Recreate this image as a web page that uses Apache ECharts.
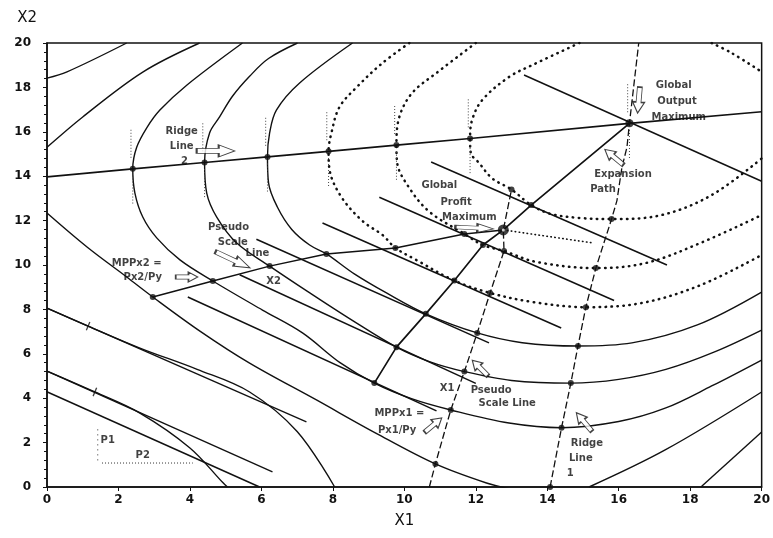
<!DOCTYPE html>
<html>
<head>
<meta charset="utf-8">
<script src="https://cdn.jsdelivr.net/npm/echarts/dist/echarts.min.js"></script>
<style>
html,body{margin:0;padding:0;background:#fff;}
#chart{width:773px;height:538px;}
</style>
</head>
<body>
<div id="chart"></div>
<script>
// ---------- isoquants (solid) ----------
const isoM2 = [[0,5.22],[1.34,4.28],[2.6,3.33],[4.0,1.76],[4.92,0.2],[5.05,0]];
const isoM1Upper = [[0,18.42],[0.56,18.7],[2.23,20]];
const isoM1Lower = [[0,8.06],[1.15,7.25],[2.6,6.26],[4.2,5.3],[5.67,4.28],[7.0,2.5],[8.05,0]];
const isoM1Right = [[18.3,0],[20,2.48]];
const iso0Upper = [[0,15.3],[1.0,16.67],[2.68,18.69],[4.27,20]];
const iso0Lower = [[0,12.34],[1.12,10.81],[2.23,9.46],[2.96,8.56],[4.3,7.0],[5.67,5.58],[7.54,3.92],[9.2,2.43],[10.87,1.04],[12.3,0.18],[13.0,-0.1]];
const iso0Right = [[15.17,0],[17.3,1.67],[20,4.28]];
const iso1 = [[5.47,20],[3.91,18.1],[3.16,16.98],[2.8,16.2],[2.51,15.3],[2.4,14.33],[2.46,13.24],[2.68,12.16],[3.07,11.22],[3.72,10.23],[4.64,9.28],[6.03,7.97],[7.15,6.94],[8.2,5.6],[9.16,4.68],[10.2,3.98],[11.3,3.47],[12.93,2.88],[14.4,2.67],[16.0,2.95],[17.3,3.55],[18.6,4.55],[20,5.72]];
const iso2 = [[7.01,20],[6.2,19.3],[5.67,18.5],[5.19,17.6],[4.83,16.67],[4.55,15.95],[4.41,14.62],[4.47,13.24],[4.75,12.16],[5.31,10.99],[6.23,9.95],[7.3,8.8],[8.5,7.55],[9.78,6.3],[10.7,5.65],[11.68,5.2],[13.0,4.8],[14.66,4.68],[16.0,4.85],[17.32,5.3],[18.7,6.1],[20,7.07]];
const iso3 = [[8.55,20],[7.07,18.2],[6.42,16.98],[6.23,15.95],[6.17,14.87],[6.2,13.7],[6.45,12.6],[6.85,11.6],[7.35,10.9],[7.82,10.5],[8.6,9.6],[9.5,8.74],[10.6,7.8],[12.04,6.94],[13.3,6.5],[14.86,6.35],[16.37,6.49],[18.2,7.3],[20,8.78]];

// ---------- isoquants (dotted) ----------
const iso4 = [[10.14,20],[9.39,19.1],[8.66,18.0],[8.18,17.1],[7.96,15.95],[7.88,15.12],[7.91,14.27],[8.24,13.06],[8.83,11.98],[9.39,11.35],[9.75,10.77],[10.33,10.23],[11.4,9.3],[12.4,8.74],[13.6,8.33],[15.08,8.1],[16.65,8.29],[18.3,9.1],[20,10.45]];
const iso5 = [[12.0,20],[10.9,18.65],[10.22,17.75],[9.86,16.67],[9.78,15.4],[9.8,14.6],[10.14,13.47],[10.7,12.4],[11.68,11.4],[12.2,10.9],[12.79,10.63],[13.69,10.14],[15.36,9.86],[16.76,10.09],[18.3,11.0],[20,12.25]];
const iso6 = [[14.9,20],[13.6,19.02],[12.93,18.47],[12.18,17.43],[11.9,16.55],[11.84,15.7],[11.86,15.05],[12.09,14.6],[12.46,13.9],[13.0,13.4],[13.55,12.7],[14.1,12.3],[14.9,12.12],[15.8,12.07],[17.2,12.25],[18.6,13.15],[20,14.8]];
const iso6Corner = [[18.6,20],[19.16,19.55],[20,18.7]];
const profitIso = [[12.77,11.58],[15.25,11.0]];

// ---------- straight lines ----------
const tangentUpper = [[0,8.06],[7.26,2.93]];
const tangentLower = [[0,5.22],[6.31,0.68]];
const priceLine = [[-0.67,4.77],[5.95,0]];
const costLines = [
  [[3.94,8.56],[10.9,3.43]],
  [[5.39,9.56],[12.0,4.67]],
  [[5.86,11.16],[12.37,6.49]],
  [[7.71,11.89],[14.39,7.16]],
  [[9.3,13.05],[15.87,8.4]],
  [[10.75,14.64],[17.35,10.0]],
  [[13.35,18.56],[20,13.77]]
];

// ---------- ridge lines, scale lines, expansion path ----------
const outputMax = [16.3,16.38];
const profitMax = [12.77,11.58];
const ridge2Dots = [[2.4,14.33],[4.41,14.62],[6.17,14.87],[7.88,15.12],[9.78,15.4],[11.84,15.7]];
const ridge2 = [[0,13.97]].concat(ridge2Dots, [outputMax, [20,16.9]]);
const ridge1Dots = [[14.08,0],[14.4,2.67],[14.66,4.68],[14.86,6.35],[15.08,8.1],[15.36,9.86],[15.8,12.07]];
const ridge1 = ridge1Dots.concat([[15.95,12.9],[16.09,14.4],[16.23,15.3],outputMax,[16.56,20]]);
const expansionDots = [[9.16,4.68],[9.78,6.3],[10.6,7.8],[11.4,9.3],[12.2,10.9],[13.55,12.7]];
const expansionPath = expansionDots.slice(0,5).concat([profitMax, expansionDots[5], outputMax]);
const scaleX2Dots = [[2.96,8.56],[4.64,9.28],[6.23,9.95],[7.82,10.5],[9.75,10.77],[11.68,11.4]];
const scaleX2 = scaleX2Dots.concat([profitMax]);
const scaleX1Dots = [[10.87,1.04],[11.3,3.47],[11.68,5.2],[12.04,6.94],[12.4,8.74],[12.79,10.63],[13.0,13.4]];
const scaleX1 = [[10.7,0]].concat(scaleX1Dots.slice(0,6), [profitMax, scaleX1Dots[6]]);

// ---------- legend marks near P1 / P2 ----------
const p2Underline = [[1.54,1.08],[4.08,1.08]];
const p1Bar = [[1.42,1.2],[1.42,2.7]];
const crossMarks = [[1.15,7.25],[1.34,4.28]];

// ---------- text ----------
const notes = [
  ['Ridge',3.77,16.04],['Line',3.77,15.32],['2',3.85,14.68],
  ['Global',17.54,18.11],['Output',17.63,17.39],['Maximum',17.68,16.67],
  ['Expansion',16.12,14.1],['Path',15.56,13.42],
  ['Global',10.98,13.6],['Profit',11.45,12.84],['Maximum',11.82,12.16],
  ['Pseudo',5.08,11.71],['Scale',5.2,11.04],['Line',5.89,10.54],
  ['X2',6.34,9.28],
  ['MPPx2 =',2.51,10.09],['Px2/Py',2.68,9.46],
  ['X1',11.2,4.46],
  ['Pseudo',12.43,4.37],['Scale Line',12.88,3.78],
  ['MPPx1 =',9.86,3.33],['Px1/Py',9.8,2.57],
  ['Ridge',15.11,1.98],['Line',14.94,1.31],['1',14.64,0.63],
  ['P1',1.7,2.12],['P2',2.68,1.44]
];
// pointer arrows: x, y, rotation, width, height
const pointers = [
  [4.72,15.14,0,38,12],
  [16.56,17.43,-95,26,12],
  [15.87,14.86,140,24,11],
  [11.96,11.67,-3,38,9],
  [5.2,10.23,-25,38,11],
  [3.91,9.46,0,22,10],
  [12.12,5.36,135,22,11],
  [10.81,2.79,40,22,11],
  [15.03,2.93,130,24,11]
];

const INK = '#111';
function solid(data, w) {
  return {type:'line', data:data, smooth:0.35, symbol:'none', silent:true,
    lineStyle:{color:INK, width:w||1.4}};
}
function straight(data, w, dash) {
  return {type:'line', data:data, smooth:false, symbol:'none', silent:true,
    lineStyle:{color:INK, width:w||1.4, type:dash||'solid'}};
}
function dotted(data) {
  return {type:'line', data:data, smooth:0.35, symbol:'none', silent:true,
    lineStyle:{color:INK, width:2.5, type:[0.5,5.5], cap:'round'}};
}

// short dotted uprights marking where each isoquant turns vertical
const ridge2Ticks = [];
ridge2Dots.concat([outputMax]).forEach(function(p){
  ridge2Ticks.push([p[0]-0.05,p[1]+0.5],[p[0]-0.05,p[1]+1.8],'-',[p[0],p[1]-0.3],[p[0],p[1]-1.6],'-');
});

const series = [];
[isoM2, isoM1Upper, isoM1Lower, isoM1Right, iso0Upper, iso0Lower, iso0Right, iso1, iso2, iso3]
  .forEach(function(d){ series.push(solid(d)); });
[iso4, iso5, iso6, iso6Corner].forEach(function(d){ series.push(dotted(d)); });
series.push({type:'line', data:profitIso, symbol:'none', silent:true,
  lineStyle:{color:INK, width:1.6, type:[0.5,3.5], cap:'round'}});
series.push(straight(tangentUpper));
series.push(straight(tangentLower));
var pl = straight(priceLine); pl.clip = false; series.push(pl);
costLines.forEach(function(d){ series.push(straight(d, 1.5)); });
series.push(straight(ridge2, 1.6));
series.push(straight(ridge1, 1.3, [7,3]));
series.push(straight(expansionPath, 1.7));
series.push(straight(scaleX2, 1.5));
series.push(straight(scaleX1, 1.3, [7,3]));
series.push({type:'line', data:ridge2Ticks, symbol:'none', silent:true, connectNulls:false,
  lineStyle:{color:'#444', width:1, type:[1,2]}});
series.push({type:'line', data:p2Underline, symbol:'none', silent:true,
  lineStyle:{color:'#333', width:1, type:[1,2]}});
series.push({type:'line', data:p1Bar, symbol:'none', silent:true,
  lineStyle:{color:'#333', width:1, type:[1,4]}});
series.push({type:'scatter', data:crossMarks, symbol:'rect', symbolSize:[1.3,9], symbolRotate:-23,
  itemStyle:{color:INK}, silent:true});
// intersection dots
series.push({type:'scatter', silent:true, symbolSize:6, itemStyle:{color:INK},
  data:ridge2Dots.concat(ridge1Dots, expansionDots, scaleX2Dots, scaleX1Dots)});
series.push({type:'scatter', silent:true, symbolSize:8, itemStyle:{color:INK}, data:[outputMax]});
series.push({type:'scatter', silent:true, symbolSize:11, itemStyle:{color:INK}, data:[profitMax]});
series.push({type:'scatter', silent:true, symbolSize:3, itemStyle:{color:'#fff'}, data:[profitMax], z:5});
// arrows
series.push({type:'scatter', silent:true, z:4,
  symbol:'path://M0,32 L58,32 L58,6 L100,50 L58,94 L58,68 L0,68 Z', symbolKeepAspect:false,
  itemStyle:{color:'#fff', borderColor:INK, borderWidth:1.2},
  data:pointers.map(function(a){ return {value:[a[0],a[1]], symbolRotate:a[2], symbolSize:[a[3],a[4]]}; })});
// annotation text
series.push({type:'scatter', silent:true, symbolSize:0, z:6,
  data:notes.map(function(n){ return {name:n[0], value:[n[1],n[2]]}; }),
  label:{show:true, position:'inside', formatter:'{b}', color:INK,
    fontFamily:'DejaVu Sans', fontSize:10, fontWeight:'bold'}});

const chart = echarts.init(document.getElementById('chart'));
chart.setOption({
  animation:false,
  backgroundColor:'#fff',
  grid:{left:47, right:10, top:43, bottom:51, show:true, borderColor:INK, borderWidth:1.5},
  xAxis:{type:'value', min:0, max:20, interval:2,
    name:'X1', nameLocation:'middle', nameGap:27,
    nameTextStyle:{color:INK, fontSize:15, fontFamily:'DejaVu Sans'},
    axisLine:{lineStyle:{color:INK, width:1.5}},
    axisTick:{show:true, length:4, lineStyle:{color:INK}},
    axisLabel:{color:INK, fontSize:12, fontWeight:'bold', fontFamily:'DejaVu Sans', margin:7},
    splitLine:{show:false}},
  yAxis:{type:'value', min:0, max:20, interval:2,
    name:'X2', nameLocation:'end', nameGap:17,
    nameTextStyle:{color:INK, fontSize:15, fontFamily:'DejaVu Sans', align:'right', padding:[0,10,0,0]},
    axisLine:{lineStyle:{color:INK, width:1.5}},
    axisTick:{show:true, length:4, lineStyle:{color:INK}},
    minorTick:{show:true, splitNumber:5, length:3, lineStyle:{color:INK}},
    axisLabel:{color:INK, fontSize:12, fontWeight:'bold', fontFamily:'DejaVu Sans', margin:16},
    splitLine:{show:false}},
  series:series
});
</script>
</body>
</html>
